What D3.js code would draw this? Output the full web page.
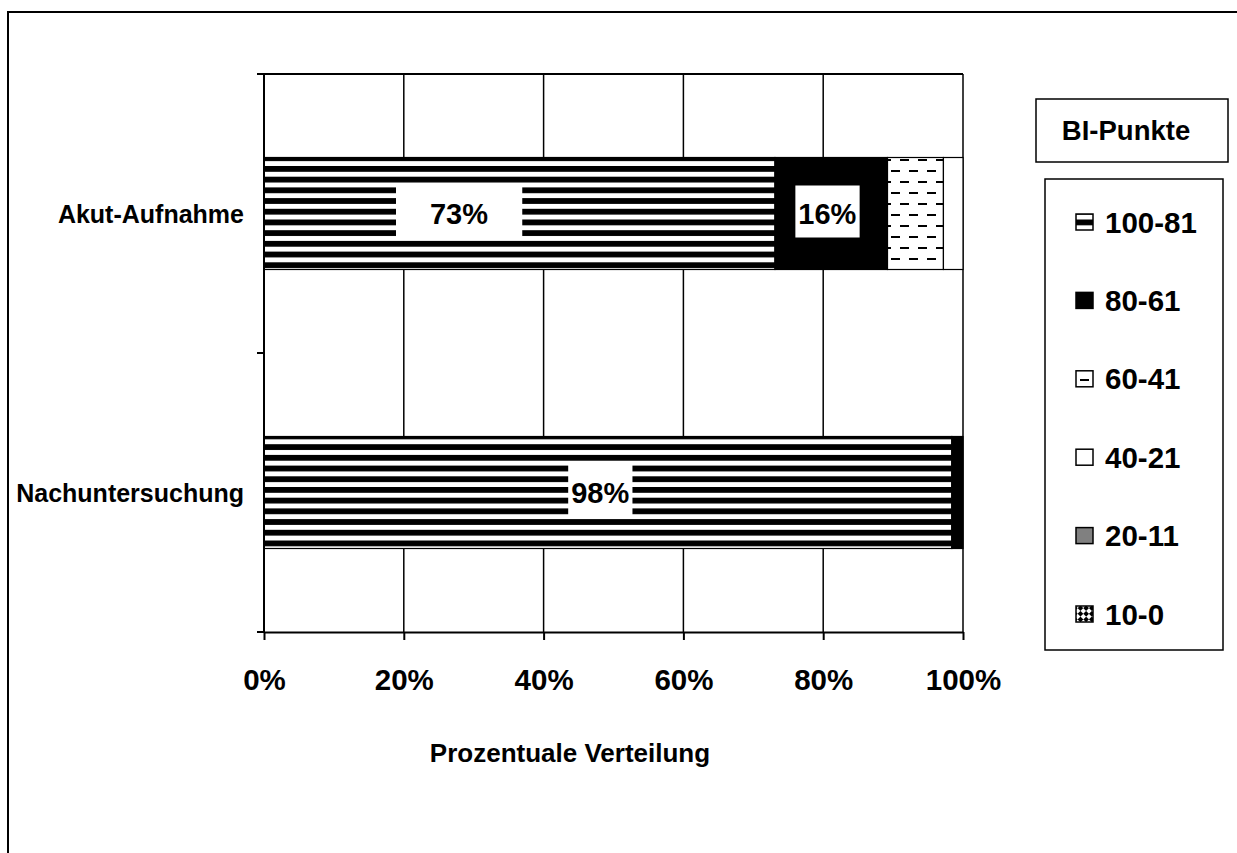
<!DOCTYPE html>
<html><head><meta charset="utf-8">
<script src="https://cdn.jsdelivr.net/npm/d3@7/dist/d3.min.js"></script>
<style>
html,body{margin:0;padding:0;background:#fff;}
svg{display:block;font-family:"Liberation Sans",Arial,sans-serif;font-weight:bold;}
</style></head>
<body>
<svg id="chart" width="1237" height="853"></svg>
<script>
// ---- data ----
const categories = ["Akut-Aufnahme", "Nachuntersuchung"];
const seriesNames = ["100-81", "80-61", "60-41", "40-21", "20-11", "10-0"];
const s100_81 = [73.1, 98.4];
const s80_61  = [16.1, 1.6];
const s60_41  = [8.0, 0];
const s40_21  = [2.8, 0];
const s20_11  = [0, 0];
const s10_0   = [0, 0];
const xTicks = [0, 20, 40, 60, 80, 100];
const xTickLabels = ["0%", "20%", "40%", "60%", "80%", "100%"];
const legendTitle = "BI-Punkte";
const axisTitle = "Prozentuale Verteilung";
// data labels: category, series, text, anchor (in % along the axis)
const labelCategory = ["Akut-Aufnahme", "Akut-Aufnahme", "Nachuntersuchung"];
const labelSeries   = ["100-81", "80-61", "100-81"];
const labelText     = ["73%", "16%", "98%"];
const labelAnchor   = [27.9, 80.6, 48.1];

// ---- build ----
const seriesValues = [s100_81, s80_61, s60_41, s40_21, s20_11, s10_0];
const rows = categories.map((c, i) => {
  const r = {cat: c};
  seriesNames.forEach((s, j) => r[s] = seriesValues[j][i]);
  return r;
});
const stacked = d3.stack().keys(seriesNames)(rows);

const svg = d3.select("#chart");
const defs = svg.append("defs");

// patterns
const pStripe = defs.append("pattern").attr("id", "stripe")
  .attr("patternUnits", "userSpaceOnUse").attr("width", 10).attr("height", 10.7)
  .attr("patternTransform", "translate(0,5.5)");
pStripe.append("rect").attr("width", 10).attr("height", 10.7).attr("fill", "#fff");
pStripe.append("rect").attr("y", 0).attr("width", 10).attr("height", 5.8).attr("fill", "#000");

const pDash = defs.append("pattern").attr("id", "dash")
  .attr("patternUnits", "userSpaceOnUse").attr("width", 18).attr("height", 22);
pDash.append("rect").attr("width", 18).attr("height", 22).attr("fill", "#fff");
pDash.append("rect").attr("x", 0).attr("y", 5).attr("width", 9).attr("height", 2).attr("fill", "#000");
pDash.append("rect").attr("x", 9).attr("y", 16).attr("width", 9).attr("height", 2).attr("fill", "#000");

const pChk = defs.append("pattern").attr("id", "chk")
  .attr("patternUnits", "userSpaceOnUse").attr("width", 8).attr("height", 8)
  .attr("patternTransform", "rotate(45)");
pChk.append("rect").attr("width", 8).attr("height", 8).attr("fill", "#fff");
pChk.append("rect").attr("width", 4).attr("height", 4).attr("fill", "#000");
pChk.append("rect").attr("x", 4).attr("y", 4).attr("width", 4).attr("height", 4).attr("fill", "#000");

const fills = {
  "100-81": "url(#stripe)",
  "80-61": "#000",
  "60-41": "url(#dash)",
  "40-21": "#fff",
  "20-11": "#808080",
  "10-0": "url(#chk)"
};

// outer chart border (cropped at right and bottom)
svg.append("rect").attr("x", 8).attr("y", 12).attr("width", 1260).attr("height", 860)
  .attr("fill", "none").attr("stroke", "#000").attr("stroke-width", 2);

const plot = {left: 264, right: 963, top: 74, bottom: 632};
const x = d3.scaleLinear().domain([0, 100]).range([plot.left, plot.right]);
const y = d3.scalePoint().domain(categories).range([plot.top, plot.bottom]).padding(0.5);
const barH = 112;

// gridlines
svg.append("g").selectAll("line").data(xTicks.filter(t => t > 0)).join("line")
  .attr("x1", d => x(d)).attr("x2", d => x(d))
  .attr("y1", plot.top).attr("y2", plot.bottom)
  .attr("stroke", "#000").attr("stroke-width", 1.5);
// top border
svg.append("line").attr("x1", plot.left - 7).attr("x2", plot.right)
  .attr("y1", plot.top).attr("y2", plot.top).attr("stroke", "#000").attr("stroke-width", 2);

// bars
const gBars = svg.append("g");
stacked.forEach(layer => {
  gBars.append("g").selectAll("rect").data(layer.filter(d => d[1] - d[0] > 0)).join("rect")
    .attr("x", d => x(d[0]))
    .attr("y", d => y(d.data.cat) - barH / 2)
    .attr("width", d => x(d[1]) - x(d[0]))
    .attr("height", barH)
    .attr("fill", fills[layer.key])
    .attr("stroke", "#000").attr("stroke-width", 1.2);
});

// axes
const xAxis = d3.axisBottom(x).tickValues(xTicks).tickFormat((d, i) => xTickLabels[i]).tickSize(8).tickSizeOuter(0);
const gx = svg.append("g").attr("transform", `translate(0,${plot.bottom})`).call(xAxis);
gx.select(".domain").attr("stroke", "#000").attr("stroke-width", 2);
gx.selectAll(".tick line").attr("stroke", "#000").attr("stroke-width", 2);
gx.selectAll(".tick text").attr("font-size", 29.5).attr("font-family", "Liberation Sans, Arial, sans-serif")
  .attr("font-weight", "bold").attr("fill", "#000").attr("dy", null).attr("y", 58);

// y axis line + ticks at band boundaries
const yEdges = [plot.top, (plot.top + plot.bottom) / 2, plot.bottom];
svg.append("line").attr("x1", plot.left).attr("x2", plot.left).attr("y1", plot.top).attr("y2", plot.bottom)
  .attr("stroke", "#000").attr("stroke-width", 2);
svg.append("g").selectAll("line").data(yEdges).join("line")
  .attr("x1", plot.left - 7).attr("x2", plot.left).attr("y1", d => d).attr("y2", d => d)
  .attr("stroke", "#000").attr("stroke-width", 2);
svg.append("g").selectAll("text").data(categories).join("text")
  .attr("x", 244).attr("y", d => y(d) + 9).attr("text-anchor", "end")
  .attr("font-size", 25).text(d => d);

// axis title
svg.append("text").attr("x", 570).attr("y", 762).attr("text-anchor", "middle")
  .attr("font-size", 26).text(axisTitle);

// data labels
labelText.forEach((t, i) => {
  const cy = y(labelCategory[i]);
  const g = svg.append("g");
  const txt = g.append("text").attr("x", x(labelAnchor[i])).attr("y", cy + 10)
    .attr("text-anchor", "middle").attr("font-size", 29).text(t);
  const bb = txt.node().getBBox();
  const padX = i === 0 ? 34 : 3;
  g.insert("rect", "text").attr("x", bb.x - padX).attr("y", cy - 28)
    .attr("width", bb.width + 2 * padX).attr("height", 52).attr("fill", "#fff");
});

// legend title box
svg.append("rect").attr("x", 1036).attr("y", 99).attr("width", 192).attr("height", 63)
  .attr("fill", "#fff").attr("stroke", "#000").attr("stroke-width", 1.5);
svg.append("text").attr("x", 1126).attr("y", 140).attr("text-anchor", "middle")
  .attr("font-size", 27.5).text(legendTitle);

// legend box
svg.append("rect").attr("x", 1045).attr("y", 179).attr("width", 178).attr("height", 471)
  .attr("fill", "#fff").attr("stroke", "#000").attr("stroke-width", 1.5);
const ly = d3.scalePoint().domain(seriesNames).range([222, 614]);
const lg = svg.append("g");
seriesNames.forEach(s => {
  const cy = ly(s);
  lg.append("rect").attr("x", 1076).attr("y", cy - 8).attr("width", 17).attr("height", 16)
    .attr("fill", fills[s]).attr("stroke", "#000").attr("stroke-width", 1.5);
  lg.append("text").attr("x", 1105).attr("y", cy + 10.5).attr("font-size", 29.5).text(s);
});
</script>
</body></html>
